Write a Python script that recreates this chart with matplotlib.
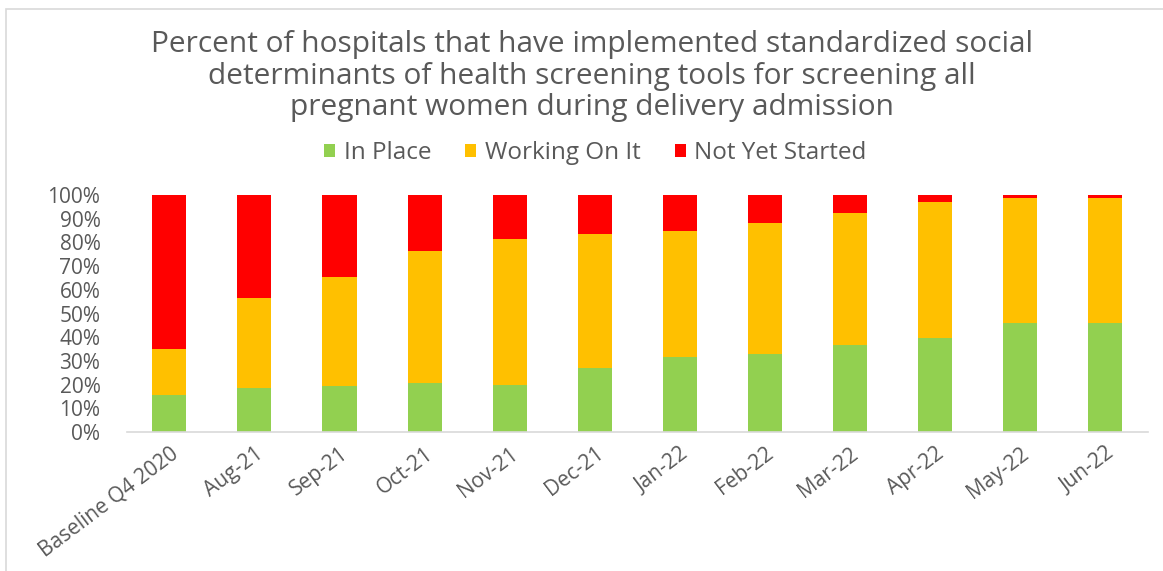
import matplotlib
matplotlib.use("Agg")
import matplotlib.pyplot as plt
from matplotlib.patches import Rectangle

# Values (percent of hospitals)
months = ['Baseline Q4 2020', 'Aug-21', 'Sep-21', 'Oct-21', 'Nov-21', 'Dec-21',
          'Jan-22', 'Feb-22', 'Mar-22', 'Apr-22', 'May-22', 'Jun-22']
in_place = [15.7, 18.4, 19.5, 20.5, 19.8, 26.9, 31.8, 33.1, 36.8, 39.6, 45.8, 45.8]
working_on_it = [19.5, 38.0, 46.1, 55.7, 61.8, 56.8, 52.9, 55.0, 55.7, 57.4, 52.9, 52.9]
not_started = [64.8, 43.6, 34.4, 23.8, 18.4, 16.3, 15.3, 11.9, 7.5, 3.0, 1.3, 1.3]

GREY = '#595959'
plt.rcParams['font.family'] = ['Open Sans', 'DejaVu Sans']

fig = plt.figure(figsize=(11.63, 5.71), dpi=100)
ax = fig.add_axes([0.109, 0.2434, 0.878, 0.4151])

x = list(range(len(months)))
w = 0.4
ax.bar(x, in_place, w, color='#92D050', label='In Place')
bottom2 = in_place
ax.bar(x, working_on_it, w, bottom=bottom2, color='#FFC000', label='Working On It')
bottom3 = [a + b for a, b in zip(in_place, working_on_it)]
ax.bar(x, not_started, w, bottom=bottom3, color='#FF0000', label='Not Yet Started')

ax.set_xlim(-0.5, len(months) - 0.5)
ax.set_ylim(0, 100)
ax.set_yticks(range(0, 101, 10))
ax.set_yticklabels(['%d%%' % v for v in range(0, 101, 10)])
ax.set_xticks(x)
ax.set_xticklabels(months, rotation=37, ha='right', rotation_mode='anchor')

for side in ['top', 'right', 'left']:
    ax.spines[side].set_visible(False)
ax.spines['bottom'].set_color('#D9D9D9')
ax.spines['bottom'].set_linewidth(1.2)
ax.tick_params(axis='both', length=0, colors=GREY)
ax.tick_params(axis='y', pad=19, labelsize=15)
ax.tick_params(axis='x', pad=8, labelsize=15)

fig.text(0.509, 0.948,
         'Percent of hospitals that have implemented standardized social\n'
         'determinants of health screening tools for screening all\n'
         'pregnant women during delivery admission',
         ha='center', va='top', fontsize=21.5, color=GREY, linespacing=1.13)

fig.legend(loc='center', bbox_to_anchor=(0.512, 0.732), ncol=3, frameon=False,
           fontsize=17.5, labelcolor=GREY, handlelength=0.45, handleheight=0.45,
           handletextpad=0.35, columnspacing=1.4)

# light frame around the chart area
fig.patches.append(Rectangle((0.005, -0.1), 1.2, 1.084, transform=fig.transFigure,
                             fill=False, edgecolor='#D9D9D9', linewidth=1.2))

fig.savefig('out.png', dpi=100)
